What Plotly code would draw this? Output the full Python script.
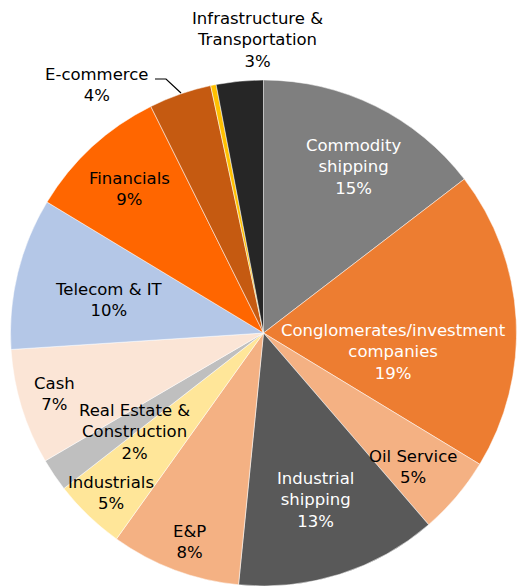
import plotly.graph_objects as go

W, H = 517, 586

# slices, clockwise from 12 o'clock
labels = ["Commodity<br>shipping", "Conglomerates/investment<br>companies", "Oil Service",
          "Industrial<br>shipping", "E&P", "Industrials", "Real Estate &<br>Construction",
          "Cash", "Telecom & IT", "Financials", "E-commerce", "Other",
          "Infrastructure &<br>Transportation"]
values = [14.6, 19.1, 5.0, 12.9, 8.3, 4.6, 2.1, 7.4, 9.7, 9.0, 4.0, 0.35, 3.0]
colors = ["#7f7f7f", "#ed7d31", "#f4b183", "#595959", "#f4b183", "#ffe699", "#bfbfbf",
          "#fbe5d6", "#b4c7e7", "#ff6600", "#c55a11", "#ffc000", "#262626"]
text_colors = ["white", "white", "black", "white", "black", "black", "black",
               "black", "black", "black", "black", None, "black"]

# label centres in pixels (None = unlabelled)
label_pos = [(353, 167), (393, 352), (413, 467), (315, 500), (189, 542), (111, 493),
             (134, 432), (54, 394), (109, 300), (129, 189), (97, 85), None, (257, 40)]


def px(x, y):
    return x / W, 1 - y / H


# pie centre (264, 334), radius 254
x0, y0 = px(10, 80)
x1, y1 = px(517, 586)

fig = go.Figure(go.Pie(
    labels=labels,
    values=values,
    sort=False,
    direction="clockwise",
    rotation=0,
    marker=dict(colors=colors, line=dict(color="white", width=0.5)),
    textinfo="none",
    hoverinfo="label+percent",
    showlegend=False,
    domain=dict(x=[x0, x1], y=[y1, y0]),
))

total = sum(values)
for lab, v, pos, tc in zip(labels, values, label_pos, text_colors):
    if pos is None:
        continue
    ax, ay = px(*pos)
    fig.add_annotation(
        x=ax, y=ay, xref="paper", yref="paper",
        text=f"{lab}<br>{round(v / total * 100)}%",
        showarrow=False, xanchor="center", yanchor="middle",
        font=dict(family="DejaVu Sans", size=16.5, color=tc),
    )

# leader line for E-commerce
pts = [px(155, 79), px(166, 79), px(181, 93)]
fig.add_shape(
    type="path", xref="paper", yref="paper",
    path="M " + " L ".join(f"{a} {b}" for a, b in pts),
    line=dict(color="black", width=1.2),
)

fig.update_layout(
    width=W, height=H,
    margin=dict(l=0, r=0, t=0, b=0),
    paper_bgcolor="white",
)

fig.write_html("out.html", config={"displayModeBar": False},
               post_script="document.body.style.margin='0';")
